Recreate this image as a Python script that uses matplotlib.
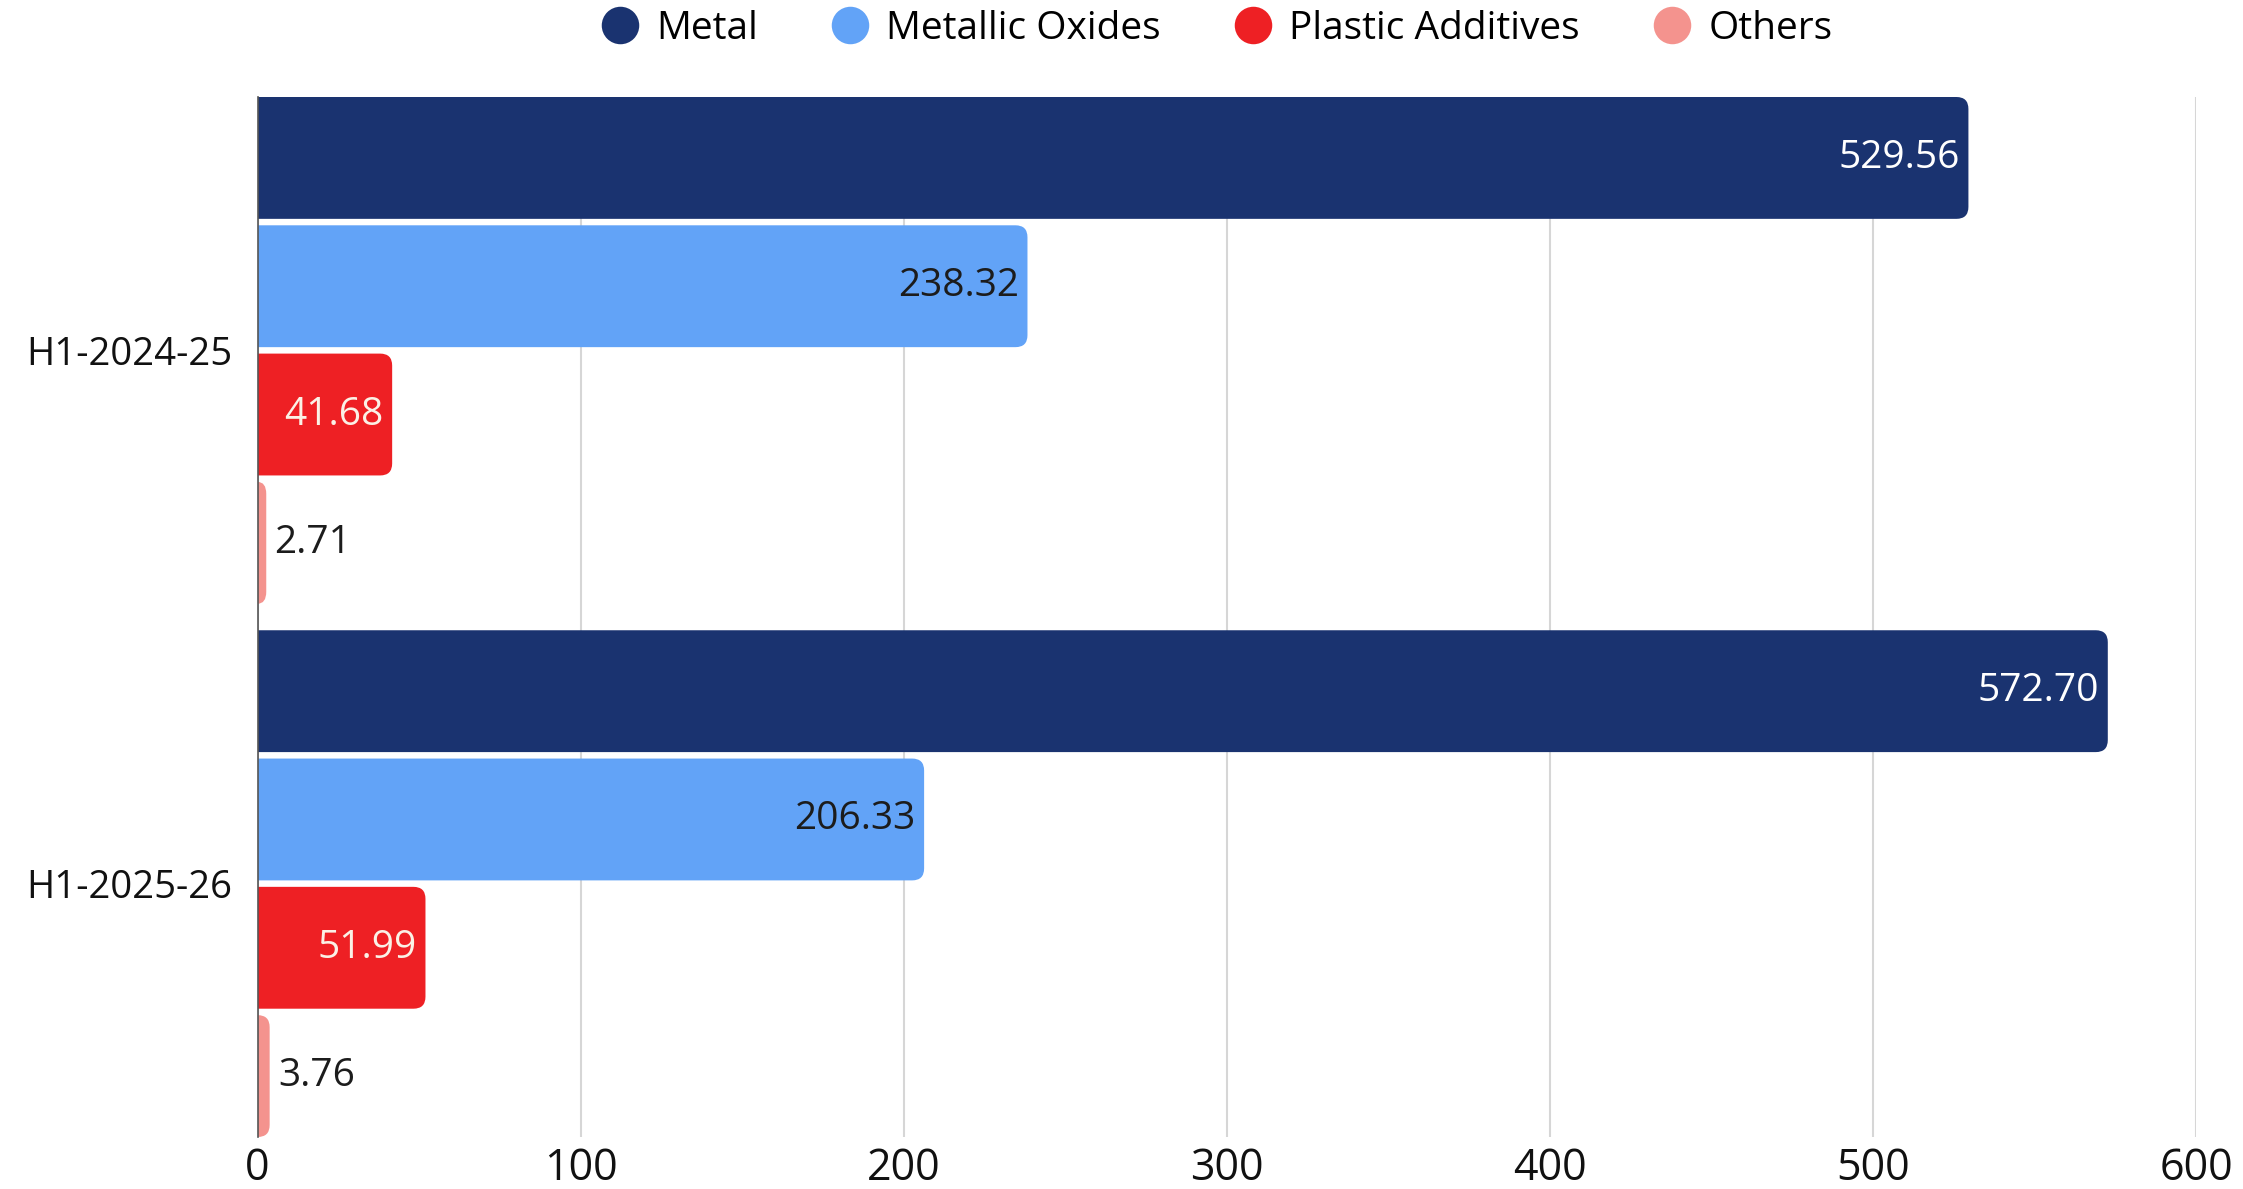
import matplotlib
matplotlib.use("Agg")
import matplotlib.pyplot as plt
from matplotlib.path import Path
from matplotlib.patches import PathPatch
from matplotlib.lines import Line2D

plt.rcParams["font.family"] = ["Open Sans", "DejaVu Sans"]

categories = ["H1-2024-25", "H1-2025-26"]
series_names = ["Metal", "Metallic Oxides", "Plastic Additives", "Others"]
metal = [529.56, 572.70]
metallic_oxides = [238.32, 206.33]
plastic_additives = [41.68, 51.99]
others = [2.71, 3.76]
x_ticks = [0, 100, 200, 300, 400, 500, 600]

series_values = [metal, metallic_oxides, plastic_additives, others]
colors = ["#1a3370", "#62a3f7", "#ee2024", "#f4938e"]
label_colors = ["#ffffff", "#1c1c1c", "#fbf1e6", "#1c1c1c"]

W, H, DPI = 2243, 1189, 100
fig = plt.figure(figsize=(W / DPI, H / DPI), dpi=DPI)
ax = fig.add_axes([257.5 / W, 1 - 1137 / H, (2196 - 257.5) / W, (1137 - 97) / H])

bar_pitch = 0.2406
bar_h = 0.2285
offsets = [(i - 1.5) * bar_pitch for i in range(4)]
span = 1.5 * bar_pitch + bar_h / 2

ax.set_xlim(0, 600)
ax.set_ylim(len(categories) - 1 + span, -span)

px_x = ax.bbox.width / 600
px_y = ax.bbox.height / (len(categories) - 1 + 2 * span)


def rounded_bar(y, w, h, color, r_px=12):
    """Horizontal bar starting at 0 with rounded right-hand corners."""
    rx = min(r_px / px_x, w)
    ry = min(r_px / px_y, h / 2)
    yb, yt = y - h / 2, y + h / 2
    verts = [(0, yb), (w - rx, yb), (w, yb), (w, yb + ry),
             (w, yt - ry), (w, yt), (w - rx, yt), (0, yt), (0, yb)]
    codes = [Path.MOVETO, Path.LINETO, Path.CURVE3, Path.CURVE3,
             Path.LINETO, Path.CURVE3, Path.CURVE3, Path.LINETO, Path.CLOSEPOLY]
    ax.add_patch(PathPatch(Path(verts, codes), facecolor=color,
                           edgecolor="none", zorder=3))


VAL_FS = 28
for s, (vals, col, lcol) in enumerate(zip(series_values, colors, label_colors)):
    for c, v in enumerate(vals):
        y = c + offsets[s]
        rounded_bar(y, v, bar_h, col)
        if v > 20:
            ax.annotate(f"{v:.2f}", xy=(v, y), xytext=(-6, 0),
                        textcoords="offset points", ha="right", va="center",
                        color=lcol, fontsize=VAL_FS, zorder=4)
        else:
            ax.annotate(f"{v:.2f}", xy=(v, y), xytext=(6, 0),
                        textcoords="offset points", ha="left", va="center",
                        color=lcol, fontsize=VAL_FS, zorder=4)

ax.set_xticks(x_ticks)
ax.set_xticklabels([str(t) for t in x_ticks])
ax.set_yticks(range(len(categories)))
ax.set_yticklabels(categories)
ax.tick_params(axis="both", length=0, labelcolor="#111111")
ax.tick_params(axis="x", pad=7, labelsize=31)
ax.tick_params(axis="y", pad=18, labelsize=27.5)

ax.grid(axis="x", color="#d6d6d6", linewidth=1.5, zorder=0)
ax.grid(axis="y", visible=False)
for side in ["top", "right", "bottom"]:
    ax.spines[side].set_visible(False)
ax.spines["left"].set_color("#555555")
ax.spines["left"].set_linewidth(1.2)
ax.spines["left"].set_zorder(5)

handles = [Line2D([], [], linestyle="none", marker="o", markersize=27,
                  markerfacecolor=c, markeredgecolor="none") for c in colors]
fig.legend(handles, series_names, loc="center", bbox_to_anchor=(0.5424, 1 - 29 / H),
           ncol=4, frameon=False, fontsize=28, handletextpad=0.43,
           columnspacing=1.87, borderaxespad=0.0, handlelength=1.0)

fig.savefig("out.png", dpi=DPI, facecolor="white")
